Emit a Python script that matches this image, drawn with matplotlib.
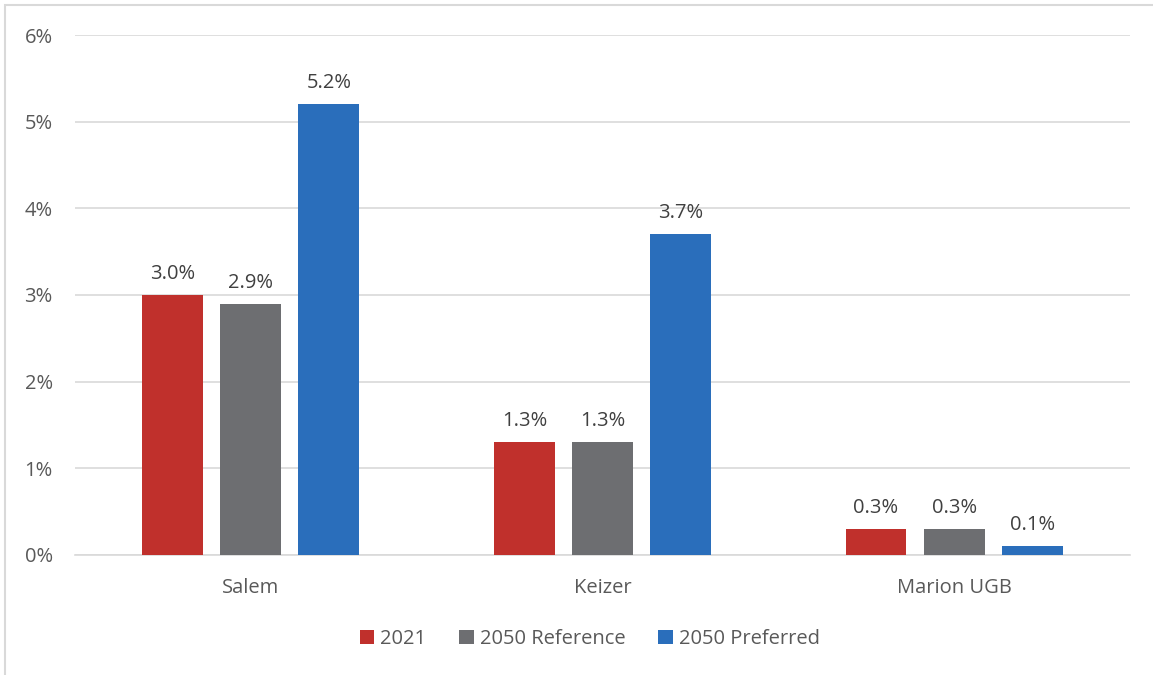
import numpy as np
import matplotlib.pyplot as plt
from matplotlib.patches import Rectangle
from matplotlib.ticker import FuncFormatter

plt.rcParams["font.family"] = ["Open Sans", "DejaVu Sans"]

areas = ["Salem", "Keizer", "Marion UGB"]
series_names = ["2021", "2050 Reference", "2050 Preferred"]
share_2021 = [3.0, 1.3, 0.3]
share_2050_ref = [2.9, 1.3, 0.3]
share_2050_pref = [5.2, 3.7, 0.1]
y_ticks = [0, 1, 2, 3, 4, 5, 6]

colors = ["#C0302C", "#6D6E71", "#2A6EBB"]
text_color = "#595959"
grid_color = "#D9D9D9"

fig = plt.figure(figsize=(11.53, 6.75), dpi=100)
ax = fig.add_axes([0.065, 0.178, 0.915, 0.77])

# outer chart frame (only top/left edges fall inside the image)
fig.patches.append(Rectangle((0.0045, -0.05), 1.2, 1.043, transform=fig.transFigure,
                             fill=False, edgecolor=grid_color, linewidth=1.5))

x = np.arange(len(areas))
width = 0.173
step = 0.222
for i, (vals, name) in enumerate(zip([share_2021, share_2050_ref, share_2050_pref], series_names)):
    pos = x + (i - 1) * step
    bars = ax.bar(pos, vals, width, color=colors[i], label=name, zorder=3)
    for b, v in zip(bars, vals):
        ax.annotate(f"{v:.1f}%", (b.get_x() + b.get_width() / 2, v),
                    xytext=(0, 8), textcoords="offset points",
                    ha="center", va="bottom", fontsize=14.5, color="#404040")

ax.set_xlim(-0.5, 2.5)
ax.set_ylim(0, 6)
ax.set_yticks(y_ticks)
ax.yaxis.set_major_formatter(FuncFormatter(lambda v, p: f"{v:.0f}%"))
ax.set_xticks(x)
ax.set_xticklabels(areas)
ax.grid(axis="y", color=grid_color, linewidth=1.2, zorder=0)
for s in ["top", "right", "left"]:
    ax.spines[s].set_visible(False)
ax.spines["bottom"].set_color(grid_color)
ax.spines["bottom"].set_linewidth(1.2)
ax.tick_params(axis="both", length=0, labelsize=14.5, colors=text_color)
ax.tick_params(axis="y", pad=16)
ax.tick_params(axis="x", pad=16.5)

leg = ax.legend(loc="upper center", bbox_to_anchor=(0.488, -0.108), ncol=3, frameon=False,
                fontsize=14.5, handlelength=0.7, handleheight=0.7, handletextpad=0.3,
                columnspacing=1.65)
for t in leg.get_texts():
    t.set_color(text_color)

fig.savefig("out.png", dpi=100)
